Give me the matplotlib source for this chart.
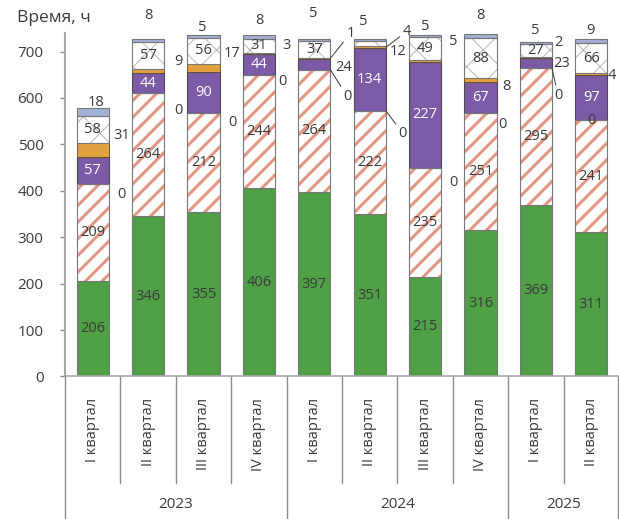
import matplotlib
matplotlib.use("Agg")
import matplotlib.pyplot as plt
import numpy as np
from matplotlib.transforms import blended_transform_factory
from matplotlib.lines import Line2D

# ---- data -------------------------------------------------------------
quarters = ["I квартал", "II квартал", "III квартал", "IV квартал",
            "I квартал", "II квартал", "III квартал", "IV квартал",
            "I квартал", "II квартал"]
years = ["2023", "2024", "2025"]
quarters_per_year = [4, 4, 2]

green = [206, 346, 355, 406, 397, 351, 215, 316, 369, 311]
striped = [209, 264, 212, 244, 264, 222, 235, 251, 295, 241]
nil = [0, 0, 0, 0, 0, 0, 0, 0, 0, 0]
purple = [57, 44, 90, 44, 24, 134, 227, 67, 23, 97]
orange = [31, 9, 17, 3, 1, 4, 5, 8, 2, 4]
crossed = [58, 57, 56, 31, 37, 12, 49, 88, 27, 66]
blue = [18, 8, 5, 8, 5, 5, 5, 8, 5, 9]

# ---- label placement (pixel offsets: dx from bar right edge, dy upward, leader) ----
nil_pos = [(13, -11, False), (14, -17, False), (13, -9, False), (7, -7, False),
           (17, -27, True), (17, -23, True), (12, -15, False), (6, -11, False),
           (6, -27, True), None]
orange_pos = [(13, 15, False), (14, 9, False), (12, 14, False), (12, 8, False),
              (20, 25, True), (21, 16, True), (12, 20, False), (10, -6, False),
              (6, 15, False), (4, -1, False)]
purple_out = {4: (13, -3, False), 8: (10, -1, False)}
crossed_out = {5: (12, -8, False)}
blue_pos = [(3, 5), (0, 23), (-1, 8), (1, 14), (-1, 25), (-6, 17), (0, 8),
            (0, 18), (-1, 11), (-1, 8)]

# ---- style ------------------------------------------------------------
plt.rcParams["font.family"] = ["Open Sans", "DejaVu Sans"]
TXT = "#3b3b3b"
EDGE = "#777777"
FS = 10.5

fig = plt.figure(figsize=(6.19, 5.19), dpi=100)
ax = fig.add_axes([65 / 619, 0.2746, 1 - 65 / 619, 0.9364 - 0.2746])

x = np.arange(len(quarters))
W = 0.58
n = len(x)

bottom = np.zeros(n)

def outline(vals, base):
    ax.bar(x, vals, W, bottom=base, fill=False, edgecolor=EDGE, linewidth=0.8, zorder=3)

# green
ax.bar(x, green, W, bottom=bottom, color="#4f9f47", edgecolor=EDGE, linewidth=0.8, zorder=2)
g_base = bottom.copy()
bottom = bottom + np.array(green)

# striped
with plt.rc_context({"hatch.linewidth": 2.2}):
    ax.bar(x, striped, W, bottom=bottom, color="white", edgecolor="#e39683",
           hatch="//", linewidth=0, zorder=2)
outline(striped, bottom)
s_base = bottom.copy()
bottom = bottom + np.array(striped)

nil_base = bottom.copy()
bottom = bottom + np.array(nil)

# purple
ax.bar(x, purple, W, bottom=bottom, color="#7c5ba6", edgecolor="#4a4a4a", linewidth=0.8, zorder=2)
p_base = bottom.copy()
bottom = bottom + np.array(purple)

# orange
ax.bar(x, orange, W, bottom=bottom, color="#e3a03e", edgecolor="#5a4a30", linewidth=0.6, zorder=2)
o_base = bottom.copy()
bottom = bottom + np.array(orange)

# crossed white
with plt.rc_context({"hatch.linewidth": 0.7}):
    ax.bar(x, crossed, W, bottom=bottom, color="white", edgecolor="#b5b5b5",
           hatch="x", linewidth=0, zorder=2)
outline(crossed, bottom)
c_base = bottom.copy()
bottom = bottom + np.array(crossed)

# blue
ax.bar(x, blue, W, bottom=bottom, color="#a4b0d8", edgecolor=EDGE, linewidth=0.8, zorder=2)
b_base = bottom.copy()
bottom = bottom + np.array(blue)

# ---- labels -----------------------------------------------------------
def inside(vals, base, color=TXT):
    for i, v in enumerate(vals):
        ax.text(x[i], base[i] + v / 2, f"{v}", ha="center", va="center",
                fontsize=FS, color=color, zorder=5)

def outside(i, v, yanchor, spec):
    dx, dy, lead = spec
    arrow = dict(arrowstyle="-", color="#3b3b3b", lw=0.7, shrinkA=0, shrinkB=0) if lead else None
    ax.annotate(f"{v}", xy=(x[i] + W / 2, yanchor), xytext=(dx, dy),
                textcoords="offset pixels", ha="center", va="center",
                fontsize=FS, color=TXT, arrowprops=arrow, zorder=5,
                annotation_clip=False)

inside(green, g_base)
inside(striped, s_base)

for i, v in enumerate(nil):
    spec = nil_pos[i]
    if spec is None:
        ax.text(x[i], nil_base[i], f"{v}", ha="center", va="center",
                fontsize=FS, color=TXT, zorder=5)
    else:
        outside(i, v, nil_base[i], spec)

for i, v in enumerate(purple):
    if i in purple_out:
        outside(i, v, p_base[i] + v / 2, purple_out[i])
    else:
        ax.text(x[i], p_base[i] + v / 2, f"{v}", ha="center", va="center",
                fontsize=FS, color="white", zorder=5)

for i, v in enumerate(orange):
    outside(i, v, o_base[i] + v / 2, orange_pos[i])

for i, v in enumerate(crossed):
    if i in crossed_out:
        outside(i, v, c_base[i] + v / 2, crossed_out[i])
    else:
        ax.text(x[i], c_base[i] + v / 2, f"{v}", ha="center", va="center",
                fontsize=FS, color=TXT, zorder=5)

for i, v in enumerate(blue):
    dx, dy = blue_pos[i]
    ax.annotate(f"{v}", xy=(x[i], bottom[i]), xytext=(dx, dy),
                textcoords="offset pixels", ha="center", va="center",
                fontsize=FS, color=TXT, zorder=5, annotation_clip=False)

# ---- axes -------------------------------------------------------------
ax.set_xlim(-0.5, n - 0.5)
ax.set_ylim(0, 740)
ax.set_yticks(range(0, 701, 100))
ax.tick_params(axis="y", length=3.5, width=1, color="#8c8c8c", pad=12,
               labelsize=11, labelcolor=TXT)
ax.set_xticks([])
for side in ("top", "right"):
    ax.spines[side].set_visible(False)
ax.spines["left"].set_color("#a8a8a8")
ax.spines["left"].set_linewidth(1.5)
ax.spines["bottom"].set_color("#a8a8a8")
ax.spines["bottom"].set_linewidth(1.2)

fig.text(17 / 619, 1 - 18 / 519, "Время, ч", ha="left", va="center",
         fontsize=12.5, color=TXT)

trans = blended_transform_factory(ax.transData, ax.transAxes)
for i, q in enumerate(quarters):
    ax.text(x[i], -0.062, q, rotation=90, ha="center", va="top",
            fontsize=FS, color=TXT, transform=trans)

# separators below the axis
year_edges = np.concatenate([[0], np.cumsum(quarters_per_year)]) - 0.5
for k in range(n + 1):
    xe = k - 0.5
    long_line = np.any(np.isclose(year_edges, xe))
    y_end = -0.42 if long_line else -0.31
    if k == n:
        xe = xe - 0.02
    ax.add_line(Line2D([xe, xe], [0, y_end], transform=trans, color="#8c8c8c",
                       lw=1.0, clip_on=False))

for j, yr in enumerate(years):
    mid = (year_edges[j] + year_edges[j + 1]) / 2
    ax.text(mid, -0.374, yr, ha="center", va="center", fontsize=11,
            color=TXT, transform=trans)

fig.savefig("out.png", dpi=100)
